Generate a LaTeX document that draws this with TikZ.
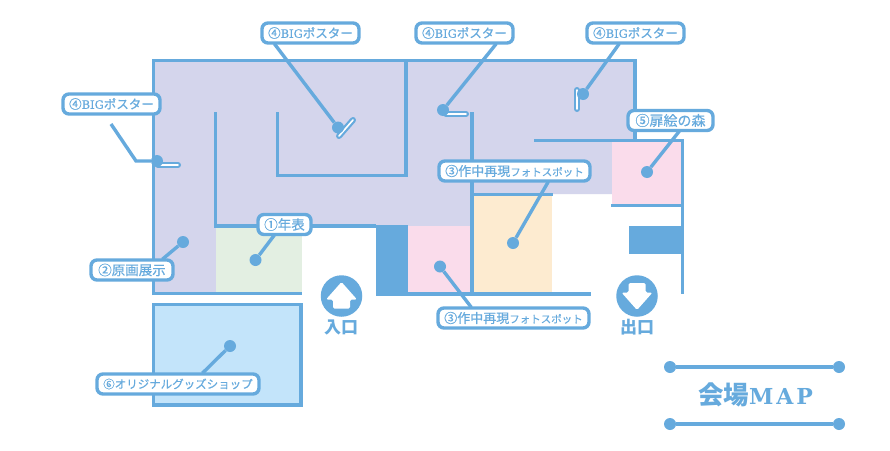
\documentclass[tikz,border=0pt]{standalone}
\usepackage{fontspec}
\usetikzlibrary{calc}
\newfontfamily\jp[FakeBold=0.4]{Noto Sans CJK JP}
\newfontfamily\jpb{Noto Sans CJK JP}
\newfontfamily\slab[FakeBold=0.3]{DejaVu Serif}
\newfontfamily\slabt{DejaVu Serif}
\definecolor{ln}{HTML}{66AADD}
\definecolor{lilac}{HTML}{D4D5EC}
\definecolor{mint}{HTML}{E3EFE2}
\definecolor{rose}{HTML}{FADCEB}
\definecolor{cream}{HTML}{FDEBD0}
\definecolor{sky}{HTML}{C3E4FA}
\newcommand{\fs}[1]{\fontsize{#1}{#1}\selectfont}
\newcommand{\bigp}{\jp\fs{12.5}④{\slab\fs{11.5}BIG}ポスター}
\newcommand{\photo}{\jp\fs{13}③作中再現{\fs{10.5}フォトスポット}}
\tikzset{
  x=1pt,y=-1pt,
  wall/.style={draw=ln,line width=3.6pt,line cap=butt},
  lbl/.style={draw=ln,line width=3.4pt,fill=white,rounded corners=6pt,inner sep=0pt,text=ln,minimum height=20pt,anchor=center},
  conn/.style={draw=ln,line width=3.4pt},
  dotnode/.style={circle,fill=ln,minimum size=12pt,inner sep=0pt},
  postr/.style={draw=ln,line width=6pt,line cap=round},
  postw/.style={draw=white,line width=1.6pt,line cap=round},
  gatecap/.style={text=ln,font=\jpb\bfseries\fs{17},inner sep=0pt},
}
\begin{document}
\begin{tikzpicture}
\useasboundingbox (0,0) rectangle (890,450);
\fill[white] (0,0) rectangle (890,450);
% rooms
\fill[lilac] (152,60) -- (635,60) -- (635,140) -- (612,140) -- (612,194) -- (472,194) -- (472,226) -- (216,226) -- (216,293) -- (152,293) -- cycle;
\fill[mint] (216,227) rectangle (302,292);
\fill[rose] (408,226) rectangle (472,293);
\fill[cream] (473,195) rectangle (552,293);
\fill[rose] (612,140) rectangle (682,205);
\fill[sky] (152,303) rectangle (302,405);
\fill[ln] (376,225) rectangle (408,295.5);
\fill[ln] (629,226) rectangle (682,253.5);
% walls
\draw[wall] (153.5,295) -- (153.5,60.5) -- (635,60.5) -- (635,140);
\draw[wall] (152,293.5) -- (302,293.5);
\draw[wall] (215.5,112) -- (215.5,226) -- (376,226);
\draw[wall] (277.5,112) -- (277.5,175.5) -- (406,175.5) -- (406,60);
\draw[wall] (472,112) -- (472,293);
\draw[wall] (376,294) -- (591,294);
\draw[wall] (472,194.5) -- (553,194.5);
\draw[wall] (534,140.5) -- (682.5,140.5) -- (682.5,294);
\draw[wall] (611,205.5) -- (682,205.5);
\draw[draw=ln,line width=3.6pt] (153.5,304.5) rectangle (301,405);
% posters
\draw[postr] (339,136) -- (353,120);\draw[postw] (339,136) -- (353,120);
\draw[postr] (158,165) -- (178,165);\draw[postw] (158,165) -- (178,165);
\draw[postr] (446,114) -- (466,114);\draw[postw] (446,114) -- (466,114);
\draw[postr] (577,90) -- (577,109);\draw[postw] (577,90) -- (577,109);
% labels
\node[lbl,minimum width=97pt] (top1) at (310.5,33) {\bigp};
\node[lbl,minimum width=97pt] (left) at (111.5,104) {\bigp};
\node[lbl,minimum width=97pt] (top2) at (464.5,33) {\bigp};
\node[lbl,minimum width=97pt] (top3) at (635.5,33) {\bigp};
\node[lbl,minimum width=85pt] (mori) at (670.5,120.5) {\jp\fs{14}⑤扉絵の森};
\node[lbl,minimum width=151pt] (ph1) at (514.5,171) {\photo};
\node[lbl,minimum width=151pt] (ph2) at (513.5,318) {\photo};
\node[lbl,minimum width=53pt] (nen) at (284.5,224.5) {\jp\fs{13.5}①年表};
\node[lbl,minimum width=82pt] (gen) at (132,270) {\jp\fs{13.5}②原画展示};
\node[lbl,minimum width=162pt] (shop) at (178,384) {\jp\fs{11.5}⑥オリジナルグッズショップ};
% pins
\node[dotnode] (p1) at (338,127.5) {};
\node[dotnode] (p2) at (157,161) {};
\node[dotnode] (p3) at (443,110) {};
\node[dotnode] (p4) at (583,94) {};
\node[dotnode] (p5) at (647,172) {};
\node[dotnode] (p6) at (513,243) {};
\node[dotnode] (p7) at (440,266.5) {};
\node[dotnode] (p8) at (255.5,260) {};
\node[dotnode] (p9) at (183,242) {};
\node[dotnode] (p10) at (230,346) {};
% connectors
\coordinate (bend) at (136,161);
\coordinate (free) at (111,124);
\draw[conn] (top1.south west) ++(14,-1) -- (p1);
\draw[conn] (free) -- (bend) -- (p2);
\draw[conn] (top2.south west) ++(82,-1) -- (p3);
\draw[conn] (top3.south west) ++(34,-1) -- (p4);
\draw[conn] (mori.south west) ++(53,-1) -- (p5);
\draw[conn] (ph1.south west) ++(111,-1) -- (p6);
\draw[conn] (ph2.north west) ++(35,1) -- (p7);
\draw[conn] (nen.south west) ++(18,-1) -- (p8);
\draw[conn] (gen.north west) ++(73,1) -- (p9);
\draw[conn] (shop.north west) ++(107,1) -- (p10);
% entrance and exit
\node[circle,fill=ln,minimum size=41.5pt,inner sep=0pt] (inc) at (341.5,296) {};
\fill[white,rounded corners=1.5pt] (341.5,282) -- (357,299.5) -- (350,299.5) -- (350,308.5) -- (333,308.5) -- (333,299.5) -- (326,299.5) -- cycle;
\node[gatecap] (inl) at (341,327.5) {入口};
\node[circle,fill=ln,minimum size=41.5pt,inner sep=0pt] (outc) at (637,296) {};
\fill[white,rounded corners=1.5pt] (637,310) -- (621.5,292.5) -- (628.5,292.5) -- (628.5,283) -- (645.5,283) -- (645.5,292.5) -- (652.5,292.5) -- cycle;
\node[gatecap] (outl) at (637,327.5) {出口};
% title
\node[dotnode] (t1) at (670,367) {};
\node[dotnode] (t2) at (839,367) {};
\node[dotnode] (t3) at (670,424) {};
\node[dotnode] (t4) at (839,424) {};
\draw[conn] (t1) -- (t2);
\draw[conn] (t3) -- (t4);
\node[text=ln,inner sep=0pt] (title) at (755.5,395) {\jpb\bfseries\fs{25.5}会場{\slabt\bfseries\fs{22}M\kern3pt A\kern3pt P}};
\end{tikzpicture}
\end{document}
